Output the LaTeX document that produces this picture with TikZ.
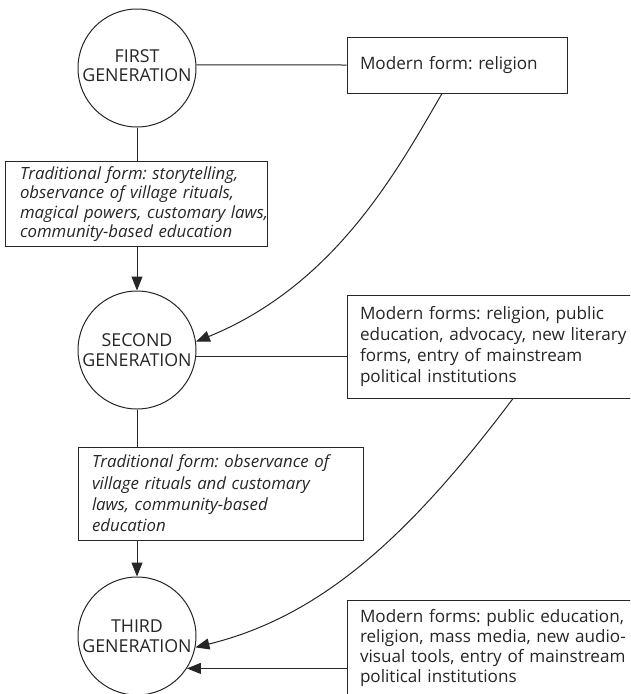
\documentclass[tikz,border=0pt]{standalone}
\usepackage{fontspec}
\setmainfont{Open Sans}
\usetikzlibrary{arrows.meta}
\definecolor{ink}{HTML}{262626}
\newcommand{\oneline}[1]{\mbox{#1}}
\begin{document}
\frenchspacing
\begin{tikzpicture}[x=1pt,y=-1pt,
  gen/.style={circle, draw=ink, line width=1pt, minimum size=118pt, inner sep=0pt,
    align=center, font=\fontsize{17.8}{20}\selectfont, text=ink},
  formbox/.style={rectangle, draw=ink, line width=1pt, inner xsep=13pt, inner ysep=0pt,
    align=left, font=\fontsize{17.1}{21.3}\selectfont, text=ink},
  trad/.style={formbox, font=\fontsize{16.8}{21.3}\selectfont\itshape},
  link/.style={draw=ink, line width=1pt},
  arr/.style={link, -{Triangle[length=14pt,width=11pt]}},
]
\useasboundingbox (0,0) rectangle (630,694);
\clip (0,0) rectangle (630,694);
\fill[white] (0,0) rectangle (630,694);

\node[gen] (g1) at (137,68) {\raisebox{4pt}{\begin{tabular}{@{}c@{}}FIRST\\[-1pt]GENERATION\end{tabular}}};
\node[gen] (g2) at (137,350) {SECOND\\GENERATION};
\node[gen] (g3) at (137,636) {THIRD\\GENERATION};

\node[formbox, text width=194pt, minimum height=56pt] (m1) at (457,65) {Modern form: religion};
\node[trad, text width=232pt, minimum height=85pt, inner xsep=15pt,
  font=\fontsize{16.8}{19.5}\selectfont\itshape] (t1) at (136,204)
  {\oneline{Traditional form: storytelling,}\\ \oneline{observance of village rituals,}\\ \oneline{magical powers, customary laws,}\\ \oneline{community-based education}};
\node[formbox, text width=277pt, minimum height=103pt] (m2) at (498.5,346.5)
  {\oneline{Modern forms: religion, public}\\ \oneline{education, advocacy, new literary}\\ \oneline{forms, entry of mainstream}\\ \oneline{political institutions}};
\node[trad, text width=257pt, minimum height=93pt, inner xsep=14pt] (t2) at (220.5,493.5)
  {\oneline{Traditional form: observance of}\\ \oneline{village rituals and customary}\\ \oneline{laws, community-based}\\ \oneline{education}};
\node[formbox, text width=277pt, minimum height=96pt,
  font=\fontsize{17.1}{20.3}\selectfont] (m3) at (498.5,648)
  {\oneline{Modern forms: public education,}\\ \oneline{religion, mass media, new audio-}\\ \oneline{visual tools, entry of mainstream}\\ \oneline{political institutions}};

\draw[link] (g1.3) -- (m1.west);
\draw[link] (g1.south) -- (g1.south |- t1.north);
\draw[arr] (g2.north |- t1.south) -- (g2.north);
\draw[arr] (m1.south -| 442,0) .. controls (397,171) and (335,285) .. (g2.8);
\draw[link] (g2.-6) -- (g2.-6 -| m2.west);
\draw[link] (g2.south) -- (g2.south |- t2.north);
\draw[arr] (g3.north |- t2.south) -- (g3.north);
\draw[arr] (m2.south -| 513,0) .. controls (411,534) and (323,616) .. (g3.-11);
\draw[arr] (m3.west |- g3.-33) -- (g3.-33);
\end{tikzpicture}
\end{document}
